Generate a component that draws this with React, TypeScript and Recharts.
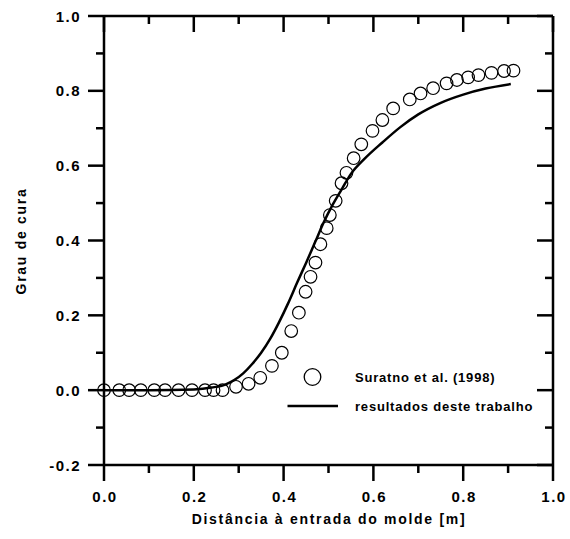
import React from "react";
import { ComposedChart, Line, Scatter, XAxis, YAxis } from "recharts";

// Suratno et al. (1998) - pontos experimentais
const suratnoX = [
  0.0, 0.034, 0.056, 0.082, 0.112, 0.136, 0.166, 0.196, 0.225, 0.244, 0.264,
  0.294, 0.322, 0.348, 0.374, 0.396, 0.417, 0.434, 0.449, 0.46, 0.471, 0.482,
  0.496, 0.503, 0.516, 0.529, 0.54, 0.556, 0.573, 0.598, 0.62, 0.644, 0.681,
  0.705, 0.733, 0.763, 0.786, 0.811, 0.834, 0.863, 0.891, 0.912,
];
const suratnoY = [
  0, 0, 0, 0, 0, 0, 0, 0, 0, 0, 0, 0.009, 0.017, 0.033, 0.065, 0.1, 0.158,
  0.207, 0.263, 0.303, 0.341, 0.39, 0.433, 0.468, 0.506, 0.553, 0.581, 0.62,
  0.657, 0.693, 0.722, 0.753, 0.777, 0.793, 0.807, 0.82, 0.829, 0.836, 0.842,
  0.848, 0.853, 0.854,
];

// resultados deste trabalho - curva do modelo
const modelX = [
  0, 0.1, 0.2, 0.24, 0.27, 0.29, 0.31, 0.33, 0.35, 0.37, 0.39, 0.41, 0.43,
  0.45, 0.47, 0.49, 0.51, 0.53, 0.55, 0.58, 0.62, 0.66, 0.7, 0.75, 0.8, 0.85,
  0.906,
];
const modelY = [
  0, 0, 0.002, 0.007, 0.015, 0.027, 0.045, 0.07, 0.1, 0.137, 0.182, 0.232,
  0.287, 0.34, 0.395, 0.45, 0.497, 0.538, 0.578, 0.618, 0.662, 0.703, 0.737,
  0.768, 0.79, 0.806, 0.818,
];

const xTicks = [0, 0.1, 0.2, 0.3, 0.4, 0.5, 0.6, 0.7, 0.8, 0.9, 1.0];
const yTicks = [-0.2, -0.1, 0, 0.1, 0.2, 0.3, 0.4, 0.5, 0.6, 0.7, 0.8, 0.9, 1.0];

const suratnoData = suratnoX.map((x, i) => ({ x, y: suratnoY[i] }));
const modelData = modelX.map((x, i) => ({ x, y: modelY[i] }));

const FONT = "'Liberation Sans', Arial, sans-serif";
const AXIS_W = 2.5;
const MAJOR = 16;
const MINOR = 8;

const isMajor = (v: number) => Math.round(v * 10) % 2 === 0;

const tickText = {
  fontFamily: FONT,
  fontWeight: 700,
  fontSize: 15,
  letterSpacing: 1.5,
  fill: "#000",
};

const BottomTick = (props: any) => {
  const { x, y, payload } = props;
  const major = isMajor(payload.value);
  return (
    <g>
      <line x1={x} y1={y} x2={x} y2={y + (major ? MAJOR : MINOR)} stroke="#000" strokeWidth={AXIS_W} />
      {major && (
        <text x={x + 1} y={y + 37} textAnchor="middle" style={tickText}>
          {payload.value.toFixed(1)}
        </text>
      )}
    </g>
  );
};

const TopTick = (props: any) => {
  const { x, y, payload } = props;
  const major = isMajor(payload.value);
  return <line x1={x} y1={y} x2={x} y2={y + (major ? MAJOR : MINOR)} stroke="#000" strokeWidth={AXIS_W} />;
};

const LeftTick = (props: any) => {
  const { x, y, payload } = props;
  const major = isMajor(payload.value);
  return (
    <g>
      <line x1={x} y1={y} x2={x - (major ? MAJOR : MINOR)} y2={y} stroke="#000" strokeWidth={AXIS_W} />
      {major && (
        <text x={x - 23} y={y + 5.5} textAnchor="end" style={tickText}>
          {payload.value.toFixed(1)}
        </text>
      )}
    </g>
  );
};

const RightTick = (props: any) => {
  const { x, y, payload } = props;
  const major = isMajor(payload.value);
  return <line x1={x} y1={y} x2={x - (major ? MAJOR : MINOR)} y2={y} stroke="#000" strokeWidth={AXIS_W} />;
};

const OpenCircle = (props: any) => (
  <circle cx={props.cx} cy={props.cy} r={6.3} fill="none" stroke="#000" strokeWidth={1.2} />
);

const legendText = {
  fontFamily: FONT,
  fontWeight: 700,
  fontSize: 13,
  letterSpacing: 0.8,
  fill: "#000",
};

const titleText = {
  fontFamily: FONT,
  fontWeight: 700,
  fontSize: 14,
  letterSpacing: 1.7,
  fill: "#000",
};

export default function App() {
  const axisLine = { stroke: "#000", strokeWidth: AXIS_W };
  return (
    <div style={{ position: "absolute", left: 0, top: 0, background: "#fff" }}>
      <ComposedChart
        width={570}
        height={539}
        margin={{ top: 14, right: 15, bottom: 0, left: 0 }}
      >
        <XAxis
          xAxisId="bottom"
          dataKey="x"
          type="number"
          domain={[0, 1]}
          ticks={xTicks}
          interval={0}
          height={74}
          tickSize={0}
          tickMargin={0}
          axisLine={axisLine}
          tickLine={false}
          tick={<BottomTick />}
        />
        <XAxis
          xAxisId="top"
          orientation="top"
          dataKey="x"
          type="number"
          domain={[0, 1]}
          ticks={xTicks}
          interval={0}
          height={2}
          tickSize={0}
          tickMargin={0}
          axisLine={axisLine}
          tickLine={false}
          tick={<TopTick />}
        />
        <YAxis
          yAxisId="left"
          type="number"
          domain={[-0.2, 1]}
          ticks={yTicks}
          interval={0}
          width={104}
          tickSize={0}
          tickMargin={0}
          axisLine={axisLine}
          tickLine={false}
          tick={<LeftTick />}
        />
        <YAxis
          yAxisId="right"
          orientation="right"
          type="number"
          domain={[-0.2, 1]}
          ticks={yTicks}
          interval={0}
          width={2}
          tickSize={0}
          tickMargin={0}
          axisLine={axisLine}
          tickLine={false}
          tick={<RightTick />}
        />
        {/* invisible series so that the mirror axes get their ticks */}
        <Line
          xAxisId="top"
          yAxisId="right"
          data={modelData}
          dataKey="y"
          stroke="none"
          dot={false}
          activeDot={false}
          legendType="none"
          isAnimationActive={false}
        />
        <Line
          xAxisId="bottom"
          yAxisId="left"
          data={modelData}
          dataKey="y"
          type="monotone"
          stroke="#000"
          strokeWidth={2.5}
          dot={false}
          activeDot={false}
          isAnimationActive={false}
        />
        <Scatter
          xAxisId="bottom"
          yAxisId="left"
          data={suratnoData}
          dataKey="y"
          shape={<OpenCircle />}
          isAnimationActive={false}
        />
        <g>
          <circle cx={312.5} cy={377} r={8.3} fill="none" stroke="#000" strokeWidth={1.3} />
          <text x={355} y={381.5} style={legendText}>Suratno et al. (1998)</text>
          <line x1={287.5} y1={406} x2={338} y2={406} stroke="#000" strokeWidth={2.5} />
          <text x={355} y={410.5} style={legendText}>resultados deste trabalho</text>
        </g>
        <text x={329} y={524} textAnchor="middle" style={titleText}>
          Distância à entrada do molde [m]
        </text>
        <text
          x={26}
          y={241}
          textAnchor="middle"
          transform="rotate(-90 26 241)"
          style={titleText}
        >
          Grau de cura
        </text>
      </ComposedChart>
    </div>
  );
}
